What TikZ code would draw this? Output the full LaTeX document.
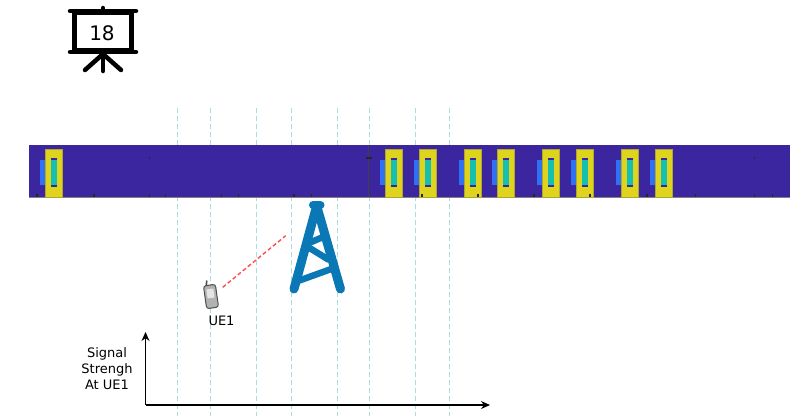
\documentclass[tikz,border=0pt]{standalone}
\usepackage{fontspec}
\setmainfont{DejaVu Sans}
\usetikzlibrary{arrows.meta, positioning}

\definecolor{barpurple}{HTML}{3C26A0}
\definecolor{slotyellow}{HTML}{DED41E}
\definecolor{slotedge}{HTML}{AFA62E}
\definecolor{slotteal}{HTML}{17BFB0}
\definecolor{slotblue}{HTML}{2F70F5}
\definecolor{towerblue}{HTML}{0A78B4}
\definecolor{gridblue}{HTML}{ABDCE0}

\begin{document}
\begin{tikzpicture}[
    x=1pt,
    y=-1pt,
    gridline/.style={
        gridblue,
        line width=0.9pt,
        dash pattern=on 5pt off 3pt,
    },
    bartick/.style={
        black!85,
        line width=1.1pt,
    },
    board/.style={
        draw,
        line width=5.5pt,
        minimum width=57pt,
        minimum height=38pt,
        inner sep=0pt,
    },
    boardtext/.style={
        font=\fontsize{20}{24}\selectfont,
        inner sep=0pt,
    },
    boardline/.style={
        line width=4.5pt,
        line cap=round,
    },
    towerleg/.style={
        towerblue,
        line width=9pt,
        line cap=round,
    },
    towerbrace/.style={
        towerblue,
        line width=6.5pt,
    },
    link/.style={
        red!70,
        line width=1.4pt,
        dash pattern=on 4pt off 2.5pt,
    },
    axis/.style={
        line width=1.1pt,
        -{Stealth[length=9pt,width=8pt]},
    },
    caption/.style={
        font=\fontsize{13}{16}\selectfont,
        align=center,
        inner sep=0pt,
    },
    slot/.pic={
        \fill[slotblue] (-5.5,160) rectangle (5.5,185);
        \fill[slotyellow, draw=slotedge, line width=0.5pt] (0,149) rectangle (17,197);
        \fill[barpurple] (5.5,158) rectangle (11.5,187);
        \fill[slotteal] (5.5,160) rectangle (11.5,185);
    },
]
    \useasboundingbox (0,0) rectangle (790,416);

    % Grid lines
    \draw[gridline] (177,108) -- (177,416);
    \draw[gridline] (210,108) -- (210,416);
    \draw[gridline] (256,108) -- (256,416);
    \draw[gridline] (291.5,108) -- (291.5,416);
    \draw[gridline] (337,108) -- (337,416);
    \draw[gridline] (369,108) -- (369,416);
    \draw[gridline] (415,108) -- (415,416);
    \draw[gridline] (449,108) -- (449,416);

    % Frame bar
    \fill[barpurple] (29,145) rectangle (790,197.5);
    \draw[black!50, line width=1.2pt] (29,197.5) -- (790,197.5);
    \draw[black!75, line width=1pt] (368,145) -- (368,197);
    \draw[bartick] (37,193.5) -- (37,197) (94,193.5) -- (94,197) (149.7,193.5) -- (149.7,197)
        (165.7,193.5) -- (165.7,197) (221.7,193.5) -- (221.7,197) (238.7,193.5) -- (238.7,197)
        (294,193.5) -- (294,197) (311.7,193.5) -- (311.7,197) (422,193.5) -- (422,197)
        (478,193.5) -- (478,197) (534,193.5) -- (534,197) (590,193.5) -- (590,197)
        (647,193.5) -- (647,197) (695.7,193.5) -- (695.7,197) (754.7,193.5) -- (754.7,197)
        (772.7,193.5) -- (772.7,197);
    \draw[bartick] (366,158) -- (372,158);
    \draw[bartick] (149.2,158) -- (150.2,158);
    \draw[bartick] (754.2,158) -- (755.2,158);

    % Slots
    \pic at (45.4,0) {slot};
    \pic at (385,0) {slot};
    \pic at (419,0) {slot};
    \pic at (464,0) {slot};
    \pic at (497.7,0) {slot};
    \pic at (542.7,0) {slot};
    \pic at (576.7,0) {slot};
    \pic at (621.7,0) {slot};
    \pic at (655.3,0) {slot};
    \draw[bartick] (422,193.5) -- (422,197) (478,193.5) -- (478,197) (590,193.5) -- (590,197);

    % Frame counter
    \node[board] (counter) at (103,31.5) {};
    \node[boardtext] (countertext) at (102,33) {18};
    \draw[boardline] (70,11) -- (136,11);
    \draw[boardline] (70,52) -- (136,52);
    \draw[boardline] (103,8) -- (103,11);
    \draw[boardline] (103,52) -- (103,71);
    \draw[boardline] (103,54) -- (85,70);
    \draw[boardline] (103,54) -- (121,70);

    % Tower
    \coordinate (towertop) at (316.7,206);
    \draw[towerblue, line width=8pt, line cap=round] (313,205) -- (320.5,205);
    \draw[towerleg] (towertop) -- (294,289);
    \draw[towerleg] (towertop) -- (340.5,289);
    \draw[towerbrace] (309,243) -- (323,237);
    \draw[towerbrace] (308,247) -- (329,260);
    \draw[towerbrace] (298,281) -- (334,268);

    % UE
    \node[draw=black!70, fill=black!30, rounded corners=2.5pt, line width=1pt,
        minimum width=12pt, minimum height=23pt, inner sep=0pt, rotate=8] (phone) at (211,296.5) {};
    \node[fill=black!10, minimum width=7pt, minimum height=9pt, inner sep=0pt,
        rotate=8] (phonescreen) at (210.5,293.5) {};
    \draw[black!70, line width=1.6pt] (206.2,286) -- (206.8,280.5);
    \node[caption] (uelabel) at (221.5,321) {UE1};

    % Link to the tower
    \coordinate (linkstart) at (222.7,287.3);
    \coordinate (linkend) at (285.7,235.7);
    \draw[link] (linkstart) -- (linkend);

    % Signal axes
    \coordinate (origin) at (145.5,405);
    \coordinate (yend) at (145.5,332);
    \coordinate (xend) at (490,405);
    \draw[axis] (origin) -- (yend);
    \draw[axis] (origin) -- (xend);
    \node[caption] (signallabel) at (107,369) {Signal\\Strengh\\At UE1};
\end{tikzpicture}
\end{document}
